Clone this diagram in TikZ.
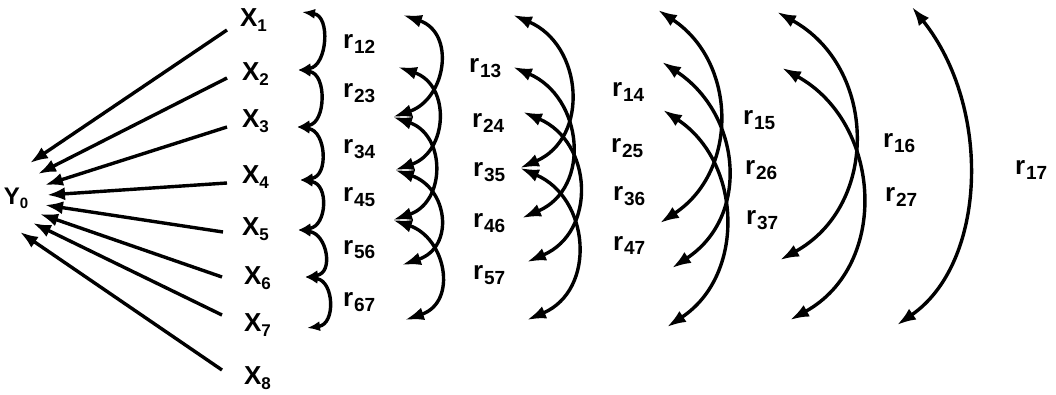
\documentclass[tikz,border=0pt]{standalone}
\usepackage{fontspec}
\setmainfont{Liberation Sans}
\usetikzlibrary{arrows.meta}
\newcommand{\xlab}[1]{\fontsize{26}{26}\selectfont\bfseries X\raisebox{-5pt}{\fontsize{17}{17}\selectfont #1}}
\newcommand{\rlab}[1]{\fontsize{26}{26}\selectfont\bfseries r\kern1pt\raisebox{-5pt}{\fontsize{19}{19}\selectfont #1}}
\begin{document}
\begin{tikzpicture}[x=1pt,y=-1pt,
  lbl/.style={anchor=base west, inner sep=0pt, outer sep=0pt},
  fan/.style={line width=3.4pt, -{Latex[length=18pt,width=13pt]}},
  link/.style={line width=3.4pt, {Latex[length=19pt,width=13pt]}-{Latex[length=19pt,width=13pt]}},
  slink/.style={line width=3.4pt, {Latex[length=13pt,width=10pt]}-{Latex[length=13pt,width=10pt]}},
]
\useasboundingbox (0,0) rectangle (1056,395);

% Y0
\node[inner sep=0pt] (y0) at (16,198) {\fontsize{24}{24}\selectfont\bfseries Y\raisebox{-4pt}{\fontsize{15}{15}\selectfont 0}};

% X labels
\node[lbl] (x1) at (240,27)  {\xlab{1}};
\node[lbl] (x2) at (242,81)  {\xlab{2}};
\node[lbl] (x3) at (242,128) {\xlab{3}};
\node[lbl] (x4) at (242,184) {\xlab{4}};
\node[lbl] (x5) at (242,236) {\xlab{5}};
\node[lbl] (x6) at (244,284) {\xlab{6}};
\node[lbl] (x7) at (244,331) {\xlab{7}};
\node[lbl] (x8) at (244,384) {\xlab{8}};

% fan line starts and tips
\coordinate (s1) at (227,30);  \coordinate (t1) at (30,163);
\coordinate (s2) at (227,78);  \coordinate (t2) at (38,174);
\coordinate (s3) at (227,127); \coordinate (t3) at (45,185);
\coordinate (s4) at (227,183); \coordinate (t4) at (47,195);
\coordinate (s5) at (223,232); \coordinate (t5) at (45,205);
\coordinate (s6) at (222,277); \coordinate (t6) at (40,214);
\coordinate (s7) at (222,315); \coordinate (t7) at (33,223);
\coordinate (s8) at (222,370); \coordinate (t8) at (20,232);
\foreach \i in {1,...,8} \draw[fan] (s\i) -- (t\i);

% column 1 endpoints
\coordinate (a1) at (302,12);  \coordinate (a2) at (298,70);
\coordinate (a3) at (297,127); \coordinate (a4) at (300,180);
\coordinate (a5) at (298,230); \coordinate (a6) at (305,277);
\coordinate (a7) at (307,328);
\foreach \i/\j in {1/2,2/3,3/4,4/5,5/6,6/7}
  \draw[slink] (a\i) .. controls +(29,4) and +(29,-4) .. (a\j);

% column 2 endpoints
\coordinate (b1) at (403,15);  \coordinate (b2) at (398,67);
\coordinate (b3) at (393,117); \coordinate (b4) at (395,170);
\coordinate (b5) at (393,220); \coordinate (b6) at (402,265);
\coordinate (b7) at (405,320);
\foreach \i/\j in {1/3,2/4,3/5,4/6,5/7}
  \draw[link] (b\i) .. controls +(53,18) and +(53,-18) .. (b\j);

% column 3 endpoints
\coordinate (c1) at (513,15);  \coordinate (c2) at (513,67);
\coordinate (c3) at (523,112); \coordinate (c4) at (520,168);
\coordinate (c5) at (522,218); \coordinate (c6) at (527,262);
\coordinate (c7) at (527,320);
\foreach \i/\j in {1/4,2/5,3/6,4/7}
  \draw[link] (c\i) .. controls +(70,30) and +(70,-30) .. (c\j);

% column 4
\coordinate (d1) at (658,10);  \coordinate (d5) at (660,223);
\coordinate (d2) at (662,62);  \coordinate (d6) at (672,268);
\coordinate (d3) at (663,110); \coordinate (d7) at (667,327);
\foreach \i/\j in {1/5,2/6,3/7}
  \draw[link] (d\i) .. controls +(79,52) and +(79,-52) .. (d\j);

% column 5
\coordinate (e1) at (777,12);  \coordinate (e6) at (780,260);
\coordinate (e2) at (782,68);  \coordinate (e7) at (790,320);
\foreach \i/\j in {1/6,2/7}
  \draw[link] (e\i) .. controls +(100,55) and +(100,-55) .. (e\j);

% column 6
\coordinate (f1) at (912,7); \coordinate (f7) at (897,325);
\draw[link] (f1) .. controls +(80,100) and +(90,-62) .. (f7);

% r labels
\node[lbl] (r12) at (343,49)  {\rlab{12}};
\node[lbl] (r23) at (343,98)  {\rlab{23}};
\node[lbl] (r34) at (343,154) {\rlab{34}};
\node[lbl] (r45) at (343,202) {\rlab{45}};
\node[lbl] (r56) at (343,254) {\rlab{56}};
\node[lbl] (r67) at (343,306) {\rlab{67}};

\node[lbl] (r13) at (469,73)  {\rlab{13}};
\node[lbl] (r24) at (472,128) {\rlab{24}};
\node[lbl] (r35) at (473,177) {\rlab{35}};
\node[lbl] (r46) at (473,228) {\rlab{46}};
\node[lbl] (r57) at (473,279) {\rlab{57}};

\node[lbl] (r14) at (612,97)  {\rlab{14}};
\node[lbl] (r25) at (611,153) {\rlab{25}};
\node[lbl] (r36) at (613,201) {\rlab{36}};
\node[lbl] (r47) at (613,250) {\rlab{47}};

\node[lbl] (r15) at (743,125) {\rlab{15}};
\node[lbl] (r26) at (745,175) {\rlab{26}};
\node[lbl] (r37) at (746,225) {\rlab{37}};

\node[lbl] (r16) at (883,148) {\rlab{16}};
\node[lbl] (r27) at (885,202) {\rlab{27}};

\node[lbl] (r17) at (1015,175) {\rlab{17}};
\end{tikzpicture}
\end{document}
